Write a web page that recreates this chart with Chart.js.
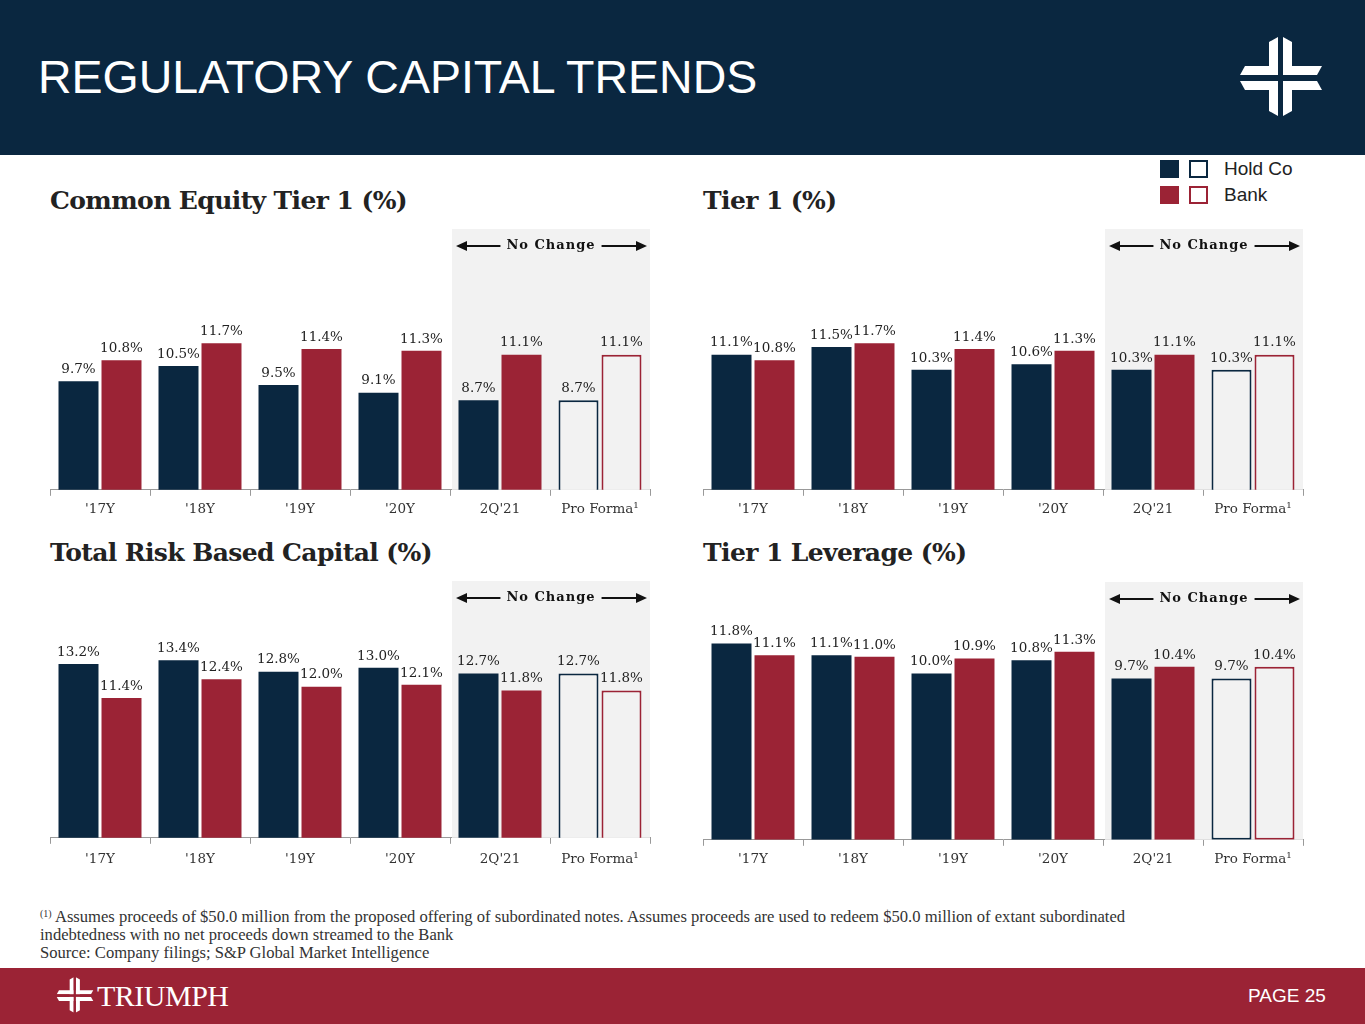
<!DOCTYPE html>
<html>
<head>
<meta charset="utf-8">
<script src="https://cdn.jsdelivr.net/npm/chart.js@4.4.0/dist/chart.umd.min.js"></script>
<style>
  html, body { margin: 0; padding: 0; }
  body { width: 1365px; height: 1024px; position: relative; background: #fff; overflow: hidden; font-family: 'Liberation Sans', Arial, sans-serif; }
  .header { position: absolute; left: 0; top: 0; width: 1365px; height: 155px; background: #0a2740; }
  .header h1 { position: absolute; left: 38px; top: 50px; margin: 0; color: #fff; font: 400 46.5px 'Liberation Sans', Arial, sans-serif; white-space: nowrap; }
  .footer { position: absolute; left: 0; top: 968px; width: 1365px; height: 56px; background: #9b2335; }
  .footer .brand { position: absolute; left: 97px; top: 11px; color: #fff; font: 400 30px 'Liberation Serif', serif; letter-spacing: -0.5px; }
  .footer .page { position: absolute; left: 1248px; top: 17px; color: #fff; font: 400 19px 'Liberation Sans', Arial, sans-serif; }
  .title { position: absolute; font: 700 25px 'DejaVu Serif', serif; color: #222; letter-spacing: -0.6px; white-space: nowrap; }
  canvas { position: absolute; }
  .legend { position: absolute; left: 1160px; top: 160px; font: 400 19px 'Liberation Sans', Arial, sans-serif; color: #222; white-space: nowrap; }
  .legend .row { position: relative; height: 26px; width: 200px; }
  .legend .sw { position: absolute; top: 0; width: 19px; height: 18px; box-sizing: border-box; }
  .legend .lbl { position: absolute; left: 64px; top: -2px; }
  .note { position: absolute; left: 40px; top: 905px; font: 400 16.6px 'Liberation Serif', serif; color: #333; line-height: 18px; white-space: nowrap; }
  .note sup { font-size: 10px; vertical-align: 5px; }
</style>
</head>
<body>
<div class="header">
  <h1>REGULATORY CAPITAL TRENDS</h1>
  <svg style="position:absolute;left:1236px;top:34px" width="90" height="90" viewBox="0 0 90 90">
    <g fill="#fff">
      <polygon points="33,8 42,3 42,82 33,77"/>
      <polygon points="47,3 56,8 56,77 47,82"/>
      <polygon points="9,32 86,32 81,41 4,41"/>
      <polygon points="4,47 81,47 86,56 9,56"/>
    </g>
    <rect x="42" y="0" width="5" height="90" fill="#0a2740"/>
    <rect x="0" y="41" width="90" height="6" fill="#0a2740"/>
  </svg>
</div>

<div class="legend">
  <div class="row">
    <div class="sw" style="left:0;background:#0a2740"></div>
    <div class="sw" style="left:29px;border:2px solid #0a2740"></div>
    <div class="lbl">Hold Co</div>
  </div>
  <div class="row">
    <div class="sw" style="left:0;background:#9b2335"></div>
    <div class="sw" style="left:29px;border:2px solid #9b2335"></div>
    <div class="lbl">Bank</div>
  </div>
</div>

<div class="title" style="left:50px;top:186px">Common Equity Tier 1 (%)</div>
<div class="title" style="left:703px;top:186px">Tier 1 (%)</div>
<div class="title" style="left:50px;top:538px">Total Risk Based Capital (%)</div>
<div class="title" style="left:703px;top:538px">Tier 1 Leverage (%)</div>

<canvas id="cet1" width="620" height="300" style="left:40px;top:224px"></canvas>
<canvas id="tier1" width="620" height="300" style="left:693px;top:224px"></canvas>
<canvas id="trbc" width="620" height="300" style="left:40px;top:576px"></canvas>
<canvas id="lev" width="620" height="297" style="left:693px;top:577px"></canvas>

<div class="note">
  <div><sup>(1)</sup> Assumes proceeds of $50.0 million from the proposed offering of subordinated notes. Assumes proceeds are used to redeem $50.0 million of extant subordinated</div>
  <div>indebtedness with no net proceeds down streamed to the Bank</div>
  <div>Source: Company filings; S&amp;P Global Market Intelligence</div>
</div>

<div class="footer">
  <svg style="position:absolute;left:55px;top:8px" width="40" height="40" viewBox="0 0 90 90">
    <g fill="#fff">
      <polygon points="33,8 42,3 42,82 33,77"/>
      <polygon points="47,3 56,8 56,77 47,82"/>
      <polygon points="9,32 86,32 81,41 4,41"/>
      <polygon points="4,47 81,47 86,56 9,56"/>
    </g>
    <rect x="42" y="0" width="5" height="90" fill="#9b2335"/>
    <rect x="0" y="41" width="90" height="6" fill="#9b2335"/>
  </svg>
  <div class="brand">TRIUMPH</div>
  <div class="page">PAGE 25</div>
</div>

<script>
const categories = ["'17Y", "'18Y", "'19Y", "'20Y", "2Q'21", "Pro Forma¹"];

const cet1HoldCo = [9.7, 10.5, 9.5, 9.1, 8.7, 8.7];
const cet1Bank = [10.8, 11.7, 11.4, 11.3, 11.1, 11.1];

const tier1HoldCo = [11.1, 11.5, 10.3, 10.6, 10.3, 10.3];
const tier1Bank = [10.8, 11.7, 11.4, 11.3, 11.1, 11.1];

const trbcHoldCo = [13.2, 13.4, 12.8, 13.0, 12.7, 12.7];
const trbcBank = [11.4, 12.4, 12.0, 12.1, 11.8, 11.8];

const levHoldCo = [11.8, 11.1, 10.0, 10.8, 9.7, 9.7];
const levBank = [11.1, 11.0, 10.9, 11.3, 10.4, 10.4];

const NAVY = '#0a2740';
const RED = '#9b2335';
const SHADE = '#f2f2f2';

// grey "No Change" panel behind the last two categories, plus the arrow header
const noChangePlugin = {
  id: 'noChange',
  beforeDatasetsDraw(chart) {
    const { ctx, chartArea } = chart;
    const x = chart.scales.x;
    const left = (x.getPixelForValue(3) + x.getPixelForValue(4)) / 2 + 2;
    ctx.save();
    ctx.fillStyle = SHADE;
    ctx.fillRect(left, chartArea.top, chartArea.right - left, chartArea.bottom - chartArea.top);
    ctx.restore();
  },
  afterDraw(chart) {
    const { ctx, chartArea } = chart;
    const x = chart.scales.x;
    const left = (x.getPixelForValue(3) + x.getPixelForValue(4)) / 2 + 2;
    const right = chartArea.right;
    const cx = (left + right) / 2;
    const y = chartArea.top + 17;
    ctx.save();
    ctx.font = 'bold 13px "DejaVu Serif", serif';
    ctx.letterSpacing = '1px';
    ctx.fillStyle = '#111';
    ctx.textAlign = 'center';
    ctx.textBaseline = 'middle';
    ctx.fillText('No Change', cx, y);
    const half = ctx.measureText('No Change').width / 2 + 6;
    ctx.strokeStyle = '#111';
    ctx.lineWidth = 2;
    ctx.beginPath();
    ctx.moveTo(left + 12, y); ctx.lineTo(cx - half, y);
    ctx.moveTo(cx + half, y); ctx.lineTo(right - 12, y);
    ctx.stroke();
    ctx.beginPath();
    ctx.moveTo(left + 4, y); ctx.lineTo(left + 15, y - 5); ctx.lineTo(left + 15, y + 5); ctx.closePath();
    ctx.moveTo(right - 3, y); ctx.lineTo(right - 14, y - 5); ctx.lineTo(right - 14, y + 5); ctx.closePath();
    ctx.fill();
    ctx.restore();
  }
};

// value labels above each bar
const valueLabels = {
  id: 'valueLabels',
  afterDatasetsDraw(chart) {
    const { ctx } = chart;
    ctx.save();
    ctx.font = '13.5px "DejaVu Serif", serif';
    ctx.fillStyle = '#222';
    ctx.textAlign = 'center';
    ctx.textBaseline = 'bottom';
    chart.data.datasets.forEach((ds, i) => {
      chart.getDatasetMeta(i).data.forEach((bar, j) => {
        ctx.fillText(ds.data[j].toFixed(1) + '%', bar.x, bar.y - 5);
      });
    });
    ctx.restore();
  }
};

function makeDataset(label, values, color) {
  return {
    label: label,
    data: values,
    backgroundColor: values.map((v, i) => i === values.length - 1 ? SHADE : color),
    borderColor: color,
    borderWidth: values.map((v, i) => i === values.length - 1 ? 2 : 0),
    borderSkipped: false,
    categoryPercentage: 0.86,
    barPercentage: 0.93
  };
}

function makeChart(id, holdCo, bank, yMin, yMax, tickPad) {
  const ctx = document.getElementById(id).getContext('2d');
  return new Chart(ctx, {
    type: 'bar',
    data: {
      labels: categories,
      datasets: [
        makeDataset('Hold Co', holdCo, NAVY),
        makeDataset('Bank', bank, RED)
      ]
    },
    options: {
      responsive: false,
      animation: false,
      layout: { padding: { left: 10, right: 10, top: 5, bottom: 0 } },
      scales: {
        y: { display: false, min: yMin, max: yMax },
        x: {
          grid: { display: true, drawOnChartArea: false, drawTicks: true, tickLength: 6, color: '#999', offset: true },
          border: { display: true, color: '#999', width: 1 },
          ticks: { color: '#333', font: { family: '"DejaVu Serif", serif', size: 13.5 }, padding: tickPad }
        }
      },
      plugins: { legend: { display: false }, tooltip: { enabled: false } }
    },
    plugins: [noChangePlugin, valueLabels]
  });
}

makeChart('cet1', cet1HoldCo, cet1Bank, 4, 17.7, 6);
makeChart('tier1', tier1HoldCo, tier1Bank, 4, 17.7, 6);
makeChart('trbc', trbcHoldCo, trbcBank, 4, 17.6, 8);
makeChart('lev', levHoldCo, levBank, 0, 15.5, 6);
</script>
</body>
</html>
